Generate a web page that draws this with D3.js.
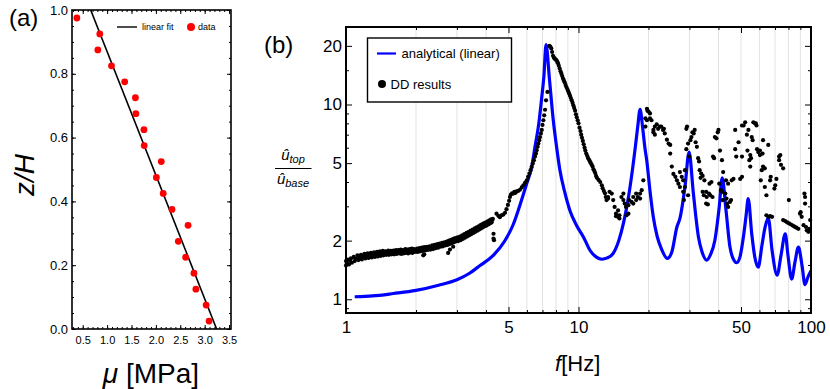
<!DOCTYPE html>
<html><head><meta charset="utf-8">
<script src="https://cdn.jsdelivr.net/npm/d3@7"></script>
<style>
body{margin:0;background:#fff}
svg{display:block;font-family:"Liberation Sans",Arial,Helvetica,sans-serif}
</style></head><body>
<svg id="chart" width="830" height="389"></svg>
<script>
// ---------- Panel (a) data ----------
const muValues = [0.38,0.85,0.81,1.09,1.36,1.58,1.59,1.755,1.76,2.11,2.01,2.15,2.33,2.66,2.46,2.61,2.78,2.82,3.03,3.09];
const zValues  = [0.975,0.925,0.875,0.825,0.775,0.725,0.675,0.625,0.575,0.525,0.475,0.425,0.375,0.325,0.275,0.225,0.175,0.125,0.075,0.025];
const fitMu = [0.663, 3.245];
const fitZ  = [1.0, 0.0];
const aXTicks = [0.5,1.0,1.5,2.0,2.5,3.0,3.5];
const aYTicks = [0.0,0.2,0.4,0.6,0.8,1.0];

// ---------- Panel (b) data ----------
const blueFreq = [1.09,1.3,1.6,2.0,2.5,3.0,3.4,3.77,4.3,4.8,5.24,5.7,5.99,6.29,6.5,6.75,6.95,7.1,7.25,7.5,7.79,8.0,8.32,8.7,9.19,9.8,10.5,11.2,11.9,12.6,13.3,14.1,14.9,15.6,16.3,16.9,17.6,18.0,18.4,18.9,19.3,19.65,20.3,20.97,21.8,22.8,24.1,25.2,26.5,27.3,28.7,29.9,31.2,32.8,34.0,35.6,37.0,38.6,40.3,41.5,43.1,44.8,46.2,47.9,49.5,51.2,52.6,53.7,55.6,57.3,59.3,61.5,63.5,65.5,68,71.5,74.3,77.5,79.6,82.6,85.3,88.3,91.5,94.2,97,100];
const blueAmp  = [1.03,1.04,1.07,1.11,1.18,1.26,1.36,1.49,1.68,1.98,2.42,3.25,3.93,4.78,6.06,8.0,10.9,14.0,20.3,13.5,8.3,6.4,4.6,3.6,2.85,2.4,2.09,1.785,1.65,1.605,1.63,1.72,2.0,2.45,3.2,4.25,6.2,7.8,9.43,7.5,6.0,5.18,3.6,2.65,2.1,1.8,1.62,1.75,2.35,2.6,3.77,5.7,3.49,2.09,1.75,1.59,1.7,2.01,2.98,4.2,2.86,1.86,1.62,1.54,1.65,2.09,2.7,3.29,2.17,1.65,1.46,1.89,2.35,2.62,1.785,1.33,1.68,2.17,1.68,1.27,1.55,1.85,1.49,1.19,1.3,1.4];
const ddPoints = [
[1.00,1.57],[1.00,1.49],[1.01,1.53],[1.02,1.60],[1.03,1.51],[1.04,1.58],[1.05,1.62],[1.06,1.54],[1.08,1.65],[1.09,1.57],[1.10,1.61],[1.12,1.68],[1.13,1.59],[1.14,1.64],[1.16,1.69],[1.17,1.60],[1.18,1.66],[1.20,1.71],[1.21,1.62],[1.22,1.67],[1.24,1.72],[1.25,1.63],[1.26,1.68],[1.28,1.73],[1.29,1.64],[1.30,1.70],[1.32,1.74],[1.33,1.65],[1.34,1.70],[1.36,1.75],[1.37,1.66],[1.38,1.71],[1.40,1.76],[1.41,1.67],[1.42,1.72],[1.44,1.77],[1.45,1.68],[1.46,1.73],[1.48,1.76],[1.49,1.69],[1.50,1.74],[1.52,1.78],[1.53,1.69],[1.54,1.73],[1.56,1.77],[1.57,1.70],[1.58,1.75],[1.60,1.78],[1.61,1.70],[1.62,1.74],[1.64,1.79],[1.65,1.71],[1.66,1.76],[1.68,1.79],[1.69,1.72],[1.70,1.76],[1.72,1.80],[1.73,1.71],[1.74,1.75],[1.76,1.79],[1.77,1.72],[1.78,1.77],[1.80,1.81],[1.81,1.73],[1.82,1.76],[1.84,1.80],[1.85,1.72],[1.86,1.77],[1.88,1.81],[1.89,1.74],[1.90,1.78],[1.92,1.82],[1.93,1.73],[1.94,1.77],[1.96,1.81],[1.97,1.75],[1.98,1.79],[2.00,1.76],
[2.02,1.82],[2.03,1.75],[2.05,1.79],[2.07,1.83],[2.08,1.76],[2.10,1.80],[2.12,1.84],[2.13,1.77],[2.15,1.81],[2.15,1.68],[2.17,1.70],[2.17,1.85],[2.19,1.78],[2.21,1.82],[2.23,1.86],[2.25,1.79],[2.27,1.83],[2.29,1.87],[2.31,1.80],[2.33,1.85],[2.35,1.89],[2.37,1.81],[2.39,1.86],[2.41,1.90],[2.43,1.83],[2.45,1.88],[2.47,1.92],[2.49,1.84],[2.51,1.89],[2.53,1.93],[2.55,1.86],[2.57,1.91],[2.59,1.95],[2.61,1.87],[2.63,1.92],[2.65,1.96],[2.67,1.89],[2.69,1.94],[2.71,1.98],[2.73,1.90],[2.75,1.73],[2.75,1.96],[2.77,2.00],[2.79,1.92],[2.80,1.80],[2.81,1.97],[2.83,2.02],[2.85,1.94],[2.87,1.99],[2.89,1.86],[2.89,2.04],[2.91,1.96],[2.93,2.01],[2.95,2.06],[2.97,1.98],[2.99,2.03],
[3.02,2.08],[3.04,1.99],[3.07,2.05],[3.09,2.10],[3.11,2.01],[3.14,2.08],[3.16,2.13],[3.18,2.04],[3.21,2.11],[3.23,2.16],[3.25,2.07],[3.28,2.14],[3.30,2.19],[3.32,2.10],[3.35,2.17],[3.37,2.22],[3.39,2.13],[3.42,2.20],[3.44,2.25],[3.46,2.16],[3.49,2.23],[3.51,2.28],[3.53,2.19],[3.56,2.26],[3.58,2.31],[3.60,2.22],[3.63,2.29],[3.65,2.34],[3.67,2.25],[3.70,2.32],[3.72,2.37],[3.74,2.28],[3.77,2.35],[3.79,2.40],[3.81,2.31],[3.84,2.38],[3.86,2.43],[3.88,2.34],[3.91,2.41],[3.93,2.46],[3.95,2.37],[3.98,2.44],[4.00,2.48],[4.02,2.39],[4.05,2.46],[4.07,2.51],[4.09,2.42],[4.12,2.49],[4.14,2.54],[4.16,2.45],[4.19,2.52],[4.21,2.57],[4.23,2.48],[4.26,2.55],[4.28,2.59],[4.31,2.17],[4.31,2.05],[4.33,2.01],
[4.44,2.75],[4.52,2.68],[4.59,2.64],[4.67,2.70],[4.75,2.72],[4.83,2.78],[4.90,2.90],[4.97,3.05],[5.03,3.20],[5.07,3.35],[5.12,3.45],[5.18,3.50],[5.24,3.49],[5.30,3.56],[5.36,3.52],[5.42,3.58],[5.50,3.60],[5.60,3.65],[5.70,3.75],[5.79,3.85],[5.89,3.96],[5.99,4.08],[6.07,4.25],[6.15,4.42],[6.22,4.60],[6.29,4.78],[6.36,4.98],[6.43,5.18],[6.50,5.40],[6.56,5.60],[6.61,5.82],[6.67,6.06],[6.72,6.30],[6.78,6.56],[6.83,6.80],[6.89,7.10],[6.95,7.40],[7.00,7.85],[7.06,8.30],[7.12,8.80],[7.18,9.40],[7.25,10.5],[7.35,11.6],
[7.49,20.0],[7.56,19.8],[7.64,19.4],[7.70,18.6],[7.77,17.8],[7.84,17.4],[7.91,17.2],[7.97,17.0],[8.03,16.9],[8.10,16.6],[8.16,16.3],[8.23,15.8],[8.30,15.3],[8.37,14.8],[8.44,14.4],[8.51,14.0],[8.58,13.6],[8.65,13.3],[8.72,13.0],[8.80,12.6],[8.87,12.3],[8.95,12.0],[9.03,11.7],[9.11,11.4],[9.19,11.1],[9.27,10.8],[9.35,10.5],[9.43,10.2],[9.50,9.9],[9.58,9.6],[9.67,9.3],[9.75,8.9],[9.83,8.6],[9.92,8.3],[10.0,8.0],[10.1,7.6],[10.2,7.3],[10.27,7.0],[10.35,6.75],[10.44,6.5],[10.53,6.25],[10.62,6.0],[10.7,5.8],[10.8,5.6],[10.9,5.45],[11.0,5.3],[11.1,5.2],[11.2,5.1],[11.3,5.0],[11.4,4.9],[11.5,4.8],[11.6,4.65],[11.7,4.55],[11.8,4.45],[11.9,4.3],[12.0,4.2],[12.2,4.1],[12.4,4.0],[12.6,3.85],[12.7,3.72],[12.85,3.6],[13.0,3.5],[13.1,3.35],[13.2,3.23],
[13.4,3.35],[13.4,3.29],[13.6,3.56],[13.9,3.49],[14.1,3.23],[14.3,2.98],[14.5,2.75],[14.5,2.67],[14.8,2.65],[14.8,2.86],[15.0,2.6],[15.0,2.7],[15.3,3.35],[15.6,3.49],[15.6,3.23],[15.8,3.1],[16.0,2.98],[16.1,2.7],[16.4,2.75],[16.4,3.04],[16.5,3.23],[16.9,3.16],[17.2,3.35],[17.2,3.1],[17.7,3.49],[17.7,3.23],[18.0,3.35],[18.4,3.49],[18.4,3.29],[18.7,3.63],[19.0,4.08],
[19.4,7.7],[19.4,8.5],[19.7,8.3],[19.7,9.5],[19.8,9.3],[20.0,9.2],[20.3,9.0],[20.3,8.5],[20.6,8.3],[21.0,7.4],[21.0,7.2],[21.3,7.7],[21.3,7.0],[21.7,7.9],[22.0,7.5],[22.4,7.7],[22.7,7.7],[23.1,7.4],[23.3,7.5],[23.5,7.1],[24.0,6.6],[24.4,6.3],[24.8,6.2],[24.8,5.6],[25.2,4.8],[25.6,4.4],[26.1,4.25],[26.5,4.08],[26.9,3.92],[27.3,3.77],[27.3,4.5],[27.8,4.25],[28.2,4.08],[28.2,3.56],[28.4,3.23],[28.7,4.6],[28.7,3.77],[29.1,7.5],[29.1,5.9],[29.3,7.7],[29.6,6.3],[29.6,3.42],[29.9,5.4],[30.3,6.56],[30.6,6.8],[30.9,7.2],[31.3,7.1],[31.6,7.4],[31.9,6.4],[32.3,6.06],[32.7,5.3],[33.0,5.1],[33.2,4.6],[33.5,4.2],[33.7,4.42],[34.2,4.3],[34.2,3.56],[34.6,3.42],[34.8,4.08],[35.4,3.56],[35.4,3.1],[35.6,3.35],[36.0,3.07],[36.4,3.49],[36.6,3.92],[36.9,3.42],[37.3,4.0],[37.7,3.35],[37.9,5.4],[38.3,5.3],[38.6,6.8],[39.2,6.7],[39.7,7.2],[40.0,7.4],[40.3,3.92],[40.6,5.8],[41.0,3.63],[41.4,5.18],[41.5,3.56],[41.7,3.23],[41.9,4.5],[42.8,3.49],[43.1,4.08],[43.3,3.29],[43.6,3.1],[44.0,3.92],[44.0,2.98],[44.8,3.16],[45.3,3.23],[45.6,4.08],[46.4,4.15],[47.2,5.9],[47.2,7.4],[47.7,5.4],[48.8,6.4],[49.6,4.15],[50.5,4.25],[50.5,5.4],[50.5,7.8],[51.3,7.8],[52.1,8.1],[53.0,7.0],[53.3,5.8],[53.8,7.4],[54.3,5.18],[54.8,5.5],[54.8,4.8],[55.2,5.3],[55.6,6.8],[56.1,6.56],[56.5,8.1],[57.4,8.0],[57.9,8.0],[58.3,7.8],[58.6,5.9],[59.3,5.7],[60.3,5.8],[60.3,5.5],[60.8,4.08],[61.4,4.6],[61.9,5.6],[62.2,6.56],[62.2,4.8],[63.3,4.7],[63.3,3.77],[64.3,3.42],[64.3,2.7],[65.5,6.2],[65.5,2.65],[66.7,4.08],[66.7,2.67],[67.1,4.25],[68.0,2.65],[69.6,3.7],[70.2,3.85],[71.0,4.15],[72.9,5.4],[72.9,5.18],[73.8,5.5],[74.3,4.9],[75.9,4.7],[75.9,2.55],[77.5,2.52],[79.0,2.48],[80.3,3.23],[80.5,2.45],[82.0,2.42],[83.5,2.39],[85.0,2.36],[86.5,2.33],[88.2,2.3],[89.7,2.75],[90.3,2.8],[91.2,2.65],[92.9,2.4],[93.7,3.49],[94.3,3.35],[94.3,3.1],[95.2,2.35],[95.9,2.26],[97.4,2.22],[98.4,2.3],[99.2,2.55]
];
const bXTicks = [1,5,10,50,100];
const bXMinor = [2,3,4,6,7,8,9,20,30,40,60,70,80,90];
const bYTicks = [1,2,5,10,20];
const bYMinor = [0.9,1.5,3,4,6,7,8,9,15];
const gridFreq = [2,3,4,5,6,7,8,9,10,20,30,40,50,60,70,80,90];

const svg = d3.select("#chart");

function styleAxis(g, size){
  g.select(".domain").remove();
  g.attr("font-family", null).attr("font-size", size);
  g.selectAll("text").attr("fill","#000");
  g.selectAll("line").attr("stroke","#000").attr("stroke-width",1);
}

// ================= Panel (a) =================
const aL=72, aR=231, aT=10, aB=329;
const ax = d3.scaleLinear().domain([0.28,3.54]).range([aL,aR]);
const ay = d3.scaleLinear().domain([0,1]).range([aB,aT]);
const aMinorY = d3.range(0,1.0001,0.05);
const aMinorX = d3.range(0.3,3.5001,0.1);

svg.append("clipPath").attr("id","clipA").append("rect")
  .attr("x",aL).attr("y",aT).attr("width",aR-aL).attr("height",aB-aT);

const ga = svg.append("g");
ga.append("line").attr("clip-path","url(#clipA)")
  .attr("x1",ax(fitMu[0])).attr("y1",ay(fitZ[0]))
  .attr("x2",ax(fitMu[1])).attr("y2",ay(fitZ[1]))
  .attr("stroke","#000").attr("stroke-width",1.6);
ga.selectAll("circle.pt").data(muValues).join("circle").attr("class","pt")
  .attr("cx",d=>ax(d)).attr("cy",(d,i)=>ay(zValues[i])).attr("r",3.4).attr("fill","#ff0000");

[[d3.axisLeft(ay).tickValues(aMinorY),`translate(${aL},0)`],
 [d3.axisRight(ay).tickValues(aMinorY),`translate(${aR},0)`],
 [d3.axisBottom(ax).tickValues(aMinorX),`translate(0,${aB})`],
 [d3.axisTop(ax).tickValues(aMinorX),`translate(0,${aT})`]].forEach(([ax_,tr])=>{
  const g = ga.append("g").attr("transform",tr).call(ax_.tickSize(-2).tickFormat(""));
  styleAxis(g,10);
});
let g1 = ga.append("g").attr("transform",`translate(${aL},0)`)
  .call(d3.axisLeft(ay).tickValues(aYTicks).tickSize(-4).tickPadding(4).tickFormat(d3.format(".1f")));
styleAxis(g1,13);
g1 = ga.append("g").attr("transform",`translate(${aR},0)`)
  .call(d3.axisRight(ay).tickValues(aYTicks).tickSize(-4).tickFormat(""));
styleAxis(g1,13);
g1 = ga.append("g").attr("transform",`translate(0,${aB})`)
  .call(d3.axisBottom(ax).tickValues(aXTicks).tickSize(-4).tickPadding(7).tickFormat(d3.format(".1f")));
styleAxis(g1,11);
g1 = ga.append("g").attr("transform",`translate(0,${aT})`)
  .call(d3.axisTop(ax).tickValues(aXTicks).tickSize(-4).tickFormat(""));
styleAxis(g1,11);

ga.append("rect").attr("x",aL).attr("y",aT).attr("width",aR-aL).attr("height",aB-aT)
  .attr("fill","none").attr("stroke","#000").attr("stroke-width",1.6);

ga.append("line").attr("x1",117).attr("x2",137).attr("y1",27).attr("y2",27).attr("stroke","#000").attr("stroke-width",1.4);
ga.append("text").attr("x",142).attr("y",30).attr("font-size",9).text("linear fit");
ga.append("circle").attr("cx",191).attr("cy",27).attr("r",4).attr("fill","#ff0000");
ga.append("text").attr("x",198).attr("y",30).attr("font-size",9).text("data");

svg.append("text").attr("x",9).attr("y",26).attr("font-size",24).text("(a)");
svg.append("text").attr("transform","translate(34,175) rotate(-90)").attr("text-anchor","middle")
  .attr("font-size",28).attr("font-style","italic").text("z/H");
const muT = svg.append("text").attr("x",151).attr("y",383).attr("text-anchor","middle").attr("font-size",28);
muT.append("tspan").attr("font-style","italic").text("μ");
muT.append("tspan").text(" [MPa]");

// ================= Panel (b) =================
const bL=346, bR=811, bT=27, bB=313;
const bx = d3.scaleLog().domain([1,100]).range([bL,bR]);
const by = d3.scaleLog().domain([0.85,25]).range([bB,bT]);

const gb = svg.append("g");
gb.selectAll("line.grid").data(gridFreq).join("line").attr("class","grid")
  .attr("x1",d=>bx(d)).attr("x2",d=>bx(d)).attr("y1",bT).attr("y2",bB)
  .attr("stroke","#e3e3e3").attr("stroke-width",1);

svg.append("clipPath").attr("id","clipB").append("rect")
  .attr("x",bL).attr("y",bT).attr("width",bR-bL).attr("height",bB-bT);

const blueData = blueFreq.map((f,i)=>[f,blueAmp[i]]);
gb.append("path").attr("clip-path","url(#clipB)").datum(blueData)
  .attr("d",d3.line().x(d=>bx(d[0])).y(d=>by(d[1])).curve(d3.curveMonotoneX))
  .attr("fill","none").attr("stroke","#0000ff").attr("stroke-width",3.2).attr("stroke-linejoin","round");

gb.selectAll("circle.dd").data(ddPoints).join("circle").attr("class","dd")
  .attr("cx",d=>bx(d[0])).attr("cy",d=>by(d[1])).attr("r",2.1).attr("fill","#000");

[[d3.axisLeft(by).tickValues(bYMinor),`translate(${bL},0)`],
 [d3.axisRight(by).tickValues(bYMinor),`translate(${bR},0)`],
 [d3.axisBottom(bx).tickValues(bXMinor),`translate(0,${bB})`],
 [d3.axisTop(bx).tickValues(bXMinor),`translate(0,${bT})`]].forEach(([ax_,tr])=>{
  const g = gb.append("g").attr("transform",tr).call(ax_.tickSize(-3).tickFormat(""));
  styleAxis(g,10);
});
let g2 = gb.append("g").attr("transform",`translate(${bL},0)`)
  .call(d3.axisLeft(by).tickValues(bYTicks).tickSize(-6).tickPadding(4).tickFormat(d3.format("d")));
styleAxis(g2,17);
g2 = gb.append("g").attr("transform",`translate(${bR},0)`)
  .call(d3.axisRight(by).tickValues(bYTicks).tickSize(-6).tickFormat(""));
styleAxis(g2,17);
g2 = gb.append("g").attr("transform",`translate(0,${bB})`)
  .call(d3.axisBottom(bx).tickValues(bXTicks).tickSize(-6).tickPadding(8).tickFormat(d3.format("d")));
styleAxis(g2,17);
g2 = gb.append("g").attr("transform",`translate(0,${bT})`)
  .call(d3.axisTop(bx).tickValues(bXTicks).tickSize(-6).tickFormat(""));
styleAxis(g2,17);

gb.append("rect").attr("x",bL).attr("y",bT).attr("width",bR-bL).attr("height",bB-bT)
  .attr("fill","none").attr("stroke","#000").attr("stroke-width",2);

gb.append("rect").attr("x",367.5).attr("y",38).attr("width",144).attr("height",64)
  .attr("fill","#fff").attr("stroke","#000").attr("stroke-width",1.4);
gb.append("line").attr("x1",377).attr("x2",396).attr("y1",53.5).attr("y2",53.5).attr("stroke","#0000ff").attr("stroke-width",2.2);
gb.append("text").attr("x",401.5).attr("y",58).attr("font-size",13).text("analytical (linear)");
gb.append("circle").attr("cx",382).attr("cy",84).attr("r",4).attr("fill","#000");
gb.append("text").attr("x",390.5).attr("y",88.5).attr("font-size",13).text("DD results");

svg.append("text").attr("x",264).attr("y",53).attr("font-size",24).text("(b)");
const fT = svg.append("text").attr("x",555).attr("y",371).attr("font-size",22);
fT.append("tspan").attr("font-style","italic").text("f");
fT.append("tspan").text("[Hz]");

const num = svg.append("text").attr("x",293).attr("y",160).attr("text-anchor","middle").attr("font-style","italic");
num.append("tspan").attr("font-size",15).text("û");
num.append("tspan").attr("font-size",11).attr("dy",3).text("top");
svg.append("line").attr("x1",275).attr("x2",311.5).attr("y1",168.5).attr("y2",168.5).attr("stroke","#000").attr("stroke-width",1);
const den = svg.append("text").attr("x",293).attr("y",184).attr("text-anchor","middle").attr("font-style","italic");
den.append("tspan").attr("font-size",15).text("û");
den.append("tspan").attr("font-size",11).attr("dy",3).text("base");
</script>
</body></html>
